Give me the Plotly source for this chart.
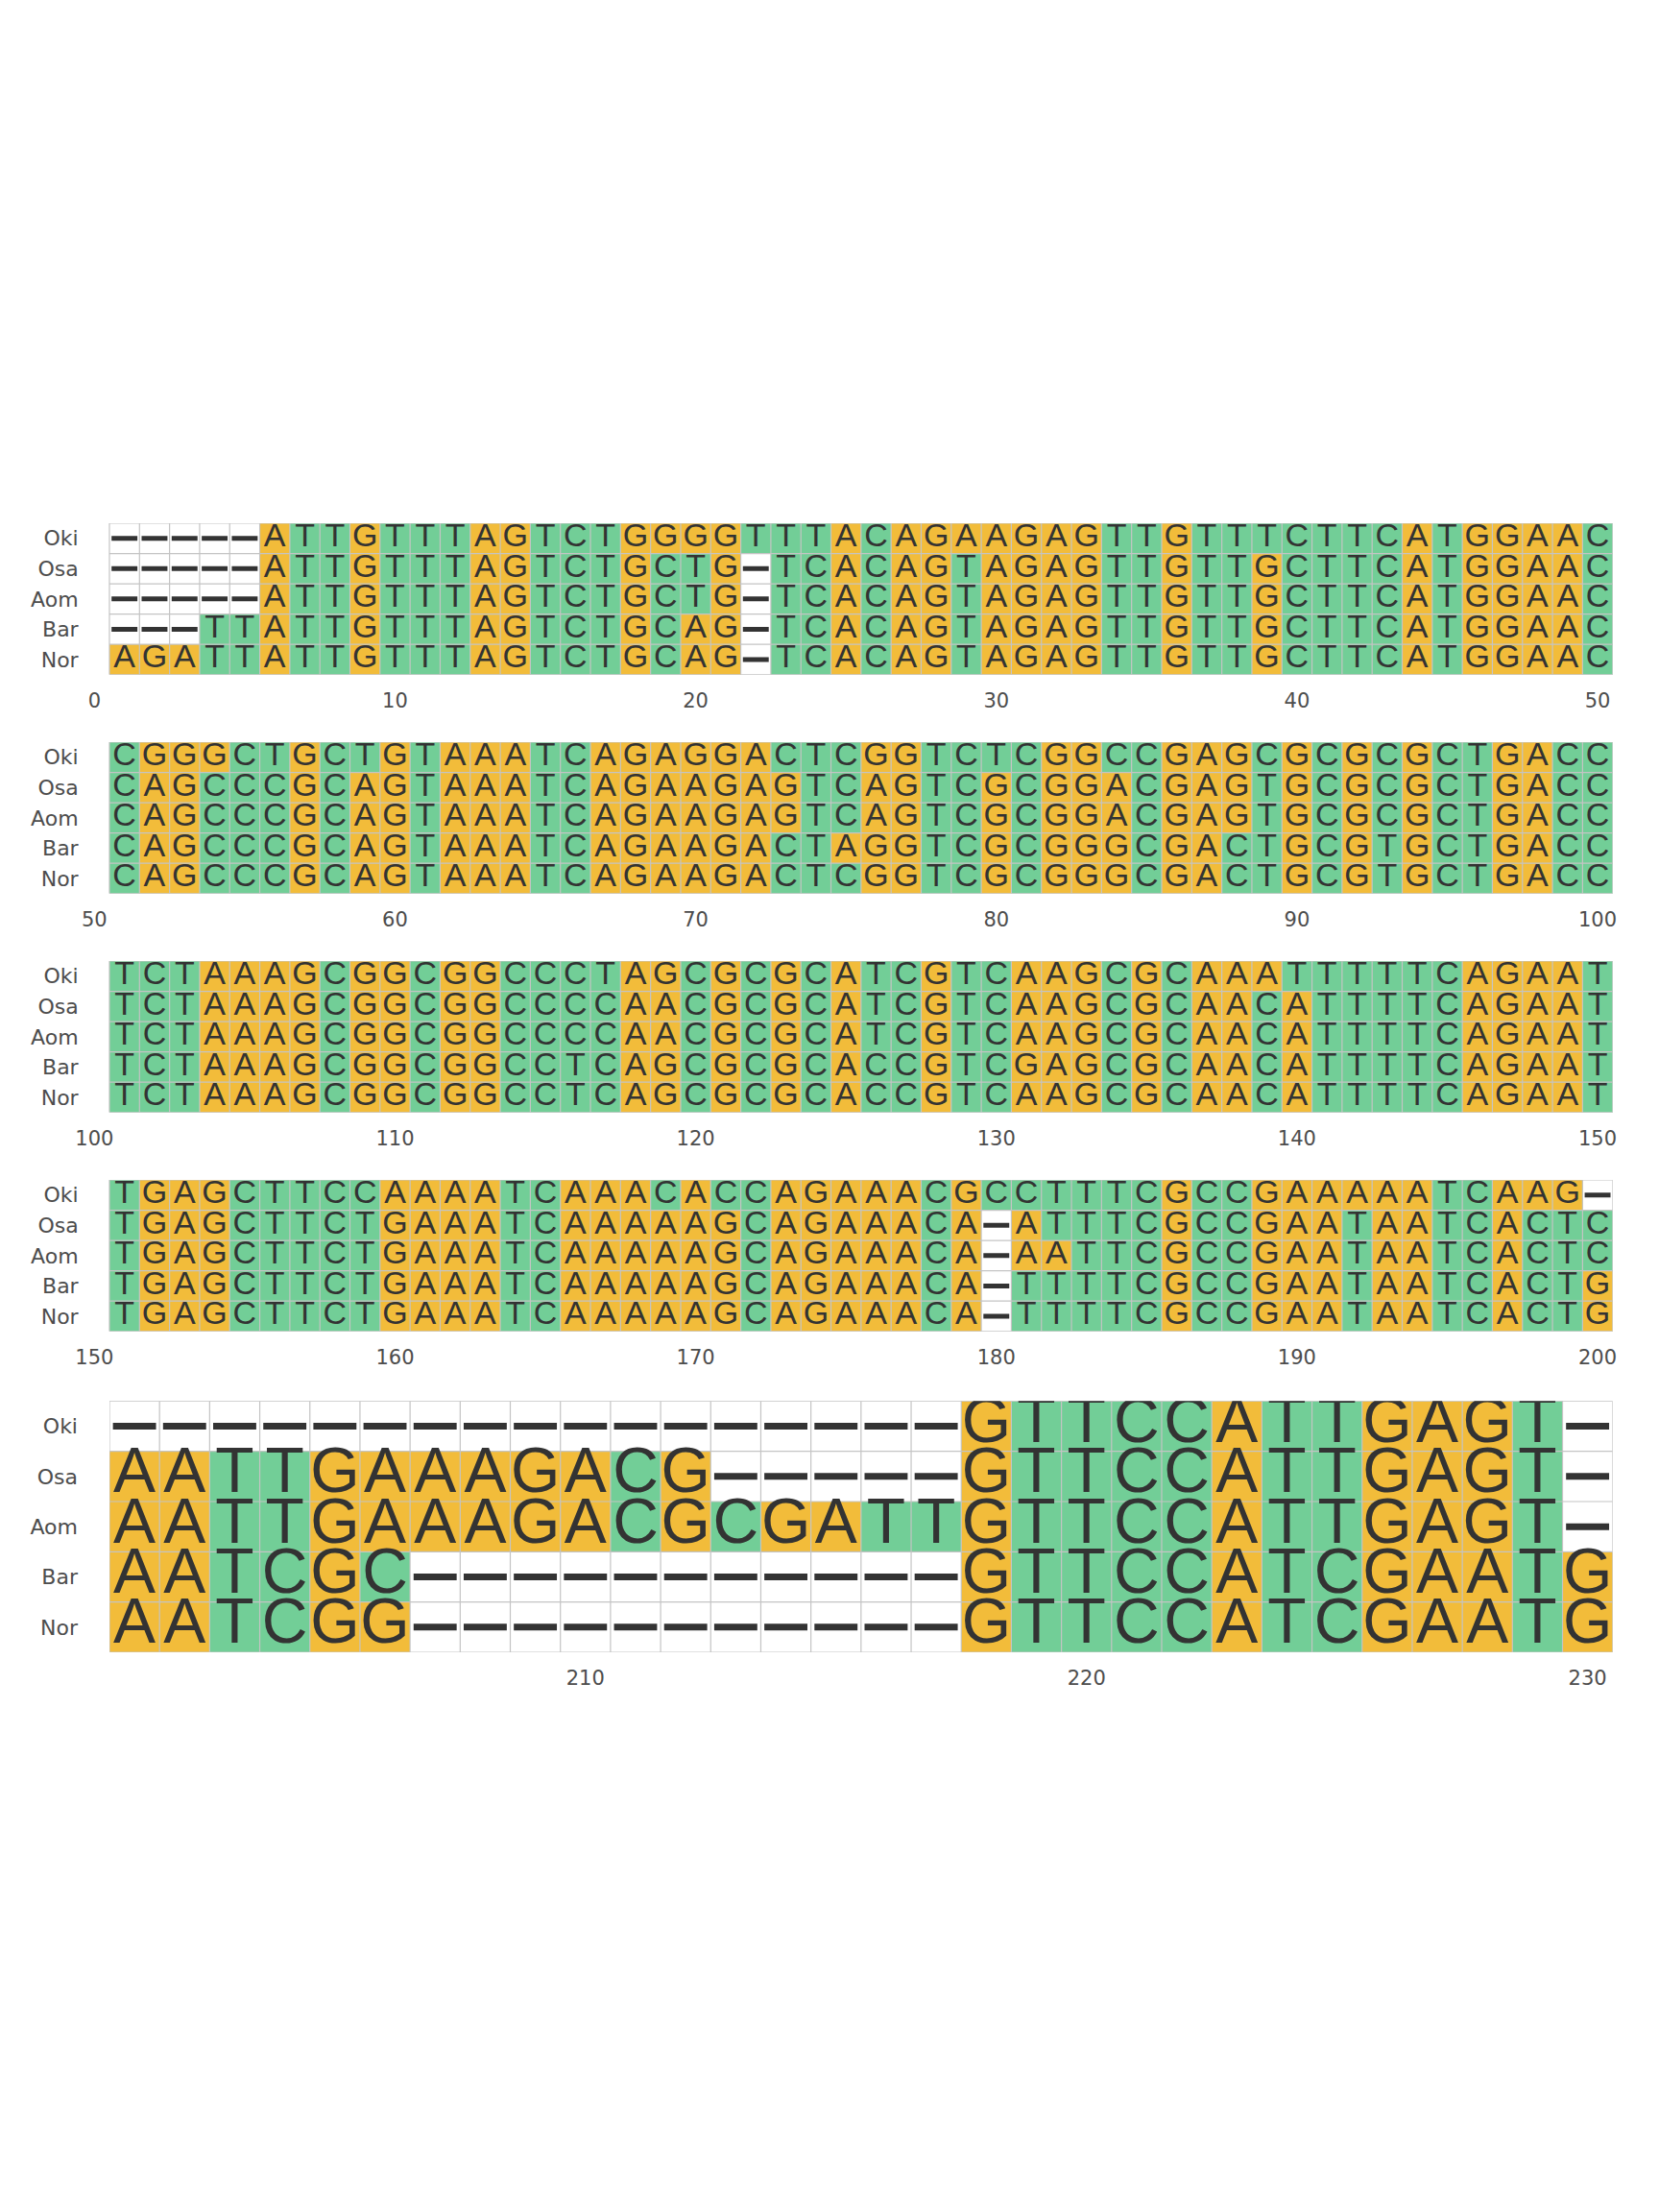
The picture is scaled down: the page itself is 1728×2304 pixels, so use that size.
import plotly.graph_objects as go

# ---------------- data ----------------
names = ["Oki", "Osa", "Aom", "Bar", "Nor"]

oki = ("-----ATTGTTTAGTCTGGGGTTTACAGAAGAGTTGTTTCTTCATGGAAC"
       "CGGGCTGCTGTAAATCAGAGGACTCGGTCTCGGCCGAGCGCGCGCTGACC"
       "TCTAAAGCGGCGGCCCTAGCGCGCATCGTCAAGCGCAAATTTTTCAGAAT"
       "TGAGCTTCCAAAATCAAACACCAGAAACGCCTTTCGCCGAAAAATCAAG-"
       "-----------------GTTCCATTGAGT-")
osa = ("-----ATTGTTTAGTCTGCTG-TCACAGTAGAGTTGTTGCTTCATGGAAC"
       "CAGCCCGCAGTAAATCAGAAGAGTCAGTCGCGGACGAGTGCGCGCTGACC"
       "TCTAAAGCGGCGGCCCCAACGCGCATCGTCAAGCGCAACATTTTCAGAAT"
       "TGAGCTTCTGAAATCAAAAAGCAGAAACA-ATTTCGCCGAATAATCACTC"
       "AATTGAAAGACG-----GTTCCATTGAGT-")
aom = ("-----ATTGTTTAGTCTGCTG-TCACAGTAGAGTTGTTGCTTCATGGAAC"
       "CAGCCCGCAGTAAATCAGAAGAGTCAGTCGCGGACGAGTGCGCGCTGACC"
       "TCTAAAGCGGCGGCCCCAACGCGCATCGTCAAGCGCAACATTTTCAGAAT"
       "TGAGCTTCTGAAATCAAAAAGCAGAAACA-AATTCGCCGAATAATCACTC"
       "AATTGAAAGACGCGATTGTTCCATTGAGT-")
bar = ("---TTATTGTTTAGTCTGCAG-TCACAGTAGAGTTGTTGCTTCATGGAAC"
       "CAGCCCGCAGTAAATCAGAAGACTAGGTCGCGGGCGACTGCGTGCTGACC"
       "TCTAAAGCGGCGGCCTCAGCGCGCACCGTCGAGCGCAACATTTTCAGAAT"
       "TGAGCTTCTGAAATCAAAAAGCAGAAACA-TTTTCGCCGAATAATCACTG"
       "AATCGC-----------GTTCCATCGAATG")
nor = ("AGATTATTGTTTAGTCTGCAG-TCACAGTAGAGTTGTTGCTTCATGGAAC"
       "CAGCCCGCAGTAAATCAGAAGACTCGGTCGCGGGCGACTGCGTGCTGACC"
       "TCTAAAGCGGCGGCCTCAGCGCGCACCGTCAAGCGCAACATTTTCAGAAT"
       "TGAGCTTCTGAAATCAAAAAGCAGAAACA-TTTTCGCCGAATAATCACTG"
       "AATCGG-----------GTTCCATCGAATG")
sequences = [oki, osa, aom, bar, nor]

panel_starts = [1, 51, 101, 151, 201]
panel_ends = [50, 100, 150, 200, 230]
panel_ticks = [[0, 10, 20, 30, 40, 50], [50, 60, 70, 80, 90, 100],
               [100, 110, 120, 130, 140, 150], [150, 160, 170, 180, 190, 200],
               [210, 220, 230]]

for s in sequences:
    assert len(s) == 230, len(s)

# ---------------- style ----------------
W, H = 1728, 2304
ORANGE = "#F2BC3A"
GREEN = "#72CE97"
TXT = "#333333"
GRID = "#c4c4c4"
cell_left_px = 110.5
cell_right_px = 1683.5
panel_px = [(545, 702.7), (773, 930.7), (1001, 1158.7), (1229, 1386.7), (1459.3, 1721)]
letter_size = [34, 34, 34, 34, 66]
dash_width = [5, 5, 5, 5, 7]
ylabel_font = dict(family="DejaVu Sans", size=22, color="#4d4d4d")
xlabel_font = dict(family="DejaVu Sans", size=21, color="#4d4d4d")

fig = go.Figure()
code = {"A": 0, "G": 0, "C": 1, "T": 1, "-": 2}
cscale = [[0, ORANGE], [0.25, ORANGE], [0.25, GREEN], [0.75, GREEN], [0.75, "white"], [1, "white"]]

for k in range(5):
    s0, s1 = panel_starts[k], panel_ends[k]
    n = s1 - s0 + 1
    xs = list(range(s0, s1 + 1))
    suffix = "" if k == 0 else str(k + 1)
    xa, ya = "x" + suffix, "y" + suffix
    z = [[code[seq[p - 1]] for p in xs] for seq in sequences]
    fig.add_trace(go.Heatmap(x=xs, y=list(range(5)), z=z, zmin=0, zmax=2,
                             colorscale=cscale, showscale=False, xaxis=xa, yaxis=ya,
                             hoverinfo="skip"))
    # grid
    gx, gy = [], []
    for i in range(n + 1):
        gx += [s0 - 0.5 + i, s0 - 0.5 + i, None]
        gy += [-0.5, 4.5, None]
    for j in range(6):
        gx += [s0 - 0.5, s1 + 0.5, None]
        gy += [j - 0.5, j - 0.5, None]
    fig.add_trace(go.Scatter(x=gx, y=gy, mode="lines", line=dict(color=GRID, width=1.2),
                             xaxis=xa, yaxis=ya, hoverinfo="skip", showlegend=False))
    # gaps and letters
    dx, dy = [], []
    tx, ty, tt = [], [], []
    for r, seq in enumerate(sequences):
        for p in xs:
            ch = seq[p - 1]
            if ch == "-":
                dx += [p - 0.43, p + 0.43, None]
                dy += [r, r, None]
            else:
                tx.append(p); ty.append(r); tt.append(ch)
    fig.add_trace(go.Scatter(x=dx, y=dy, mode="lines", line=dict(color=TXT, width=dash_width[k]),
                             xaxis=xa, yaxis=ya, hoverinfo="skip", showlegend=False))
    fig.add_trace(go.Scatter(x=tx, y=ty, text=tt, mode="text", textposition="middle center",
                             textfont=dict(family="Liberation Sans", size=letter_size[k], color=TXT),
                             xaxis=xa, yaxis=ya, hoverinfo="skip", showlegend=False))

    top, bot = panel_px[k]
    unit = (cell_right_px - cell_left_px) / n
    if k < 4:
        xr = [s0 - 1.5, s1 + 0.5]
        left_px = cell_left_px - unit
    else:
        xr = [s0 - 0.5, s1 + 0.5]
        left_px = cell_left_px
    fig.layout["xaxis" + suffix] = dict(
        domain=[left_px / W, cell_right_px / W], range=xr, anchor=ya,
        tickvals=panel_ticks[k], ticktext=[str(t) for t in panel_ticks[k]],
        showgrid=False, zeroline=False, showline=False, ticks="",
        tickfont=xlabel_font, ticklabelstandoff=12, fixedrange=True)
    fig.layout["yaxis" + suffix] = dict(
        domain=[1 - bot / H, 1 - top / H], range=[4.5, -0.5], anchor=xa,
        tickvals=list(range(5)), ticktext=names,
        showgrid=False, zeroline=False, showline=False, ticks="",
        tickfont=ylabel_font,
        ticklabelstandoff=int(round(left_px - 79)), fixedrange=True)

fig.update_layout(width=W, height=H, margin=dict(l=0, r=0, t=0, b=0, pad=0),
                  paper_bgcolor="white", plot_bgcolor="white", showlegend=False)

fig.write_html("out.html")
